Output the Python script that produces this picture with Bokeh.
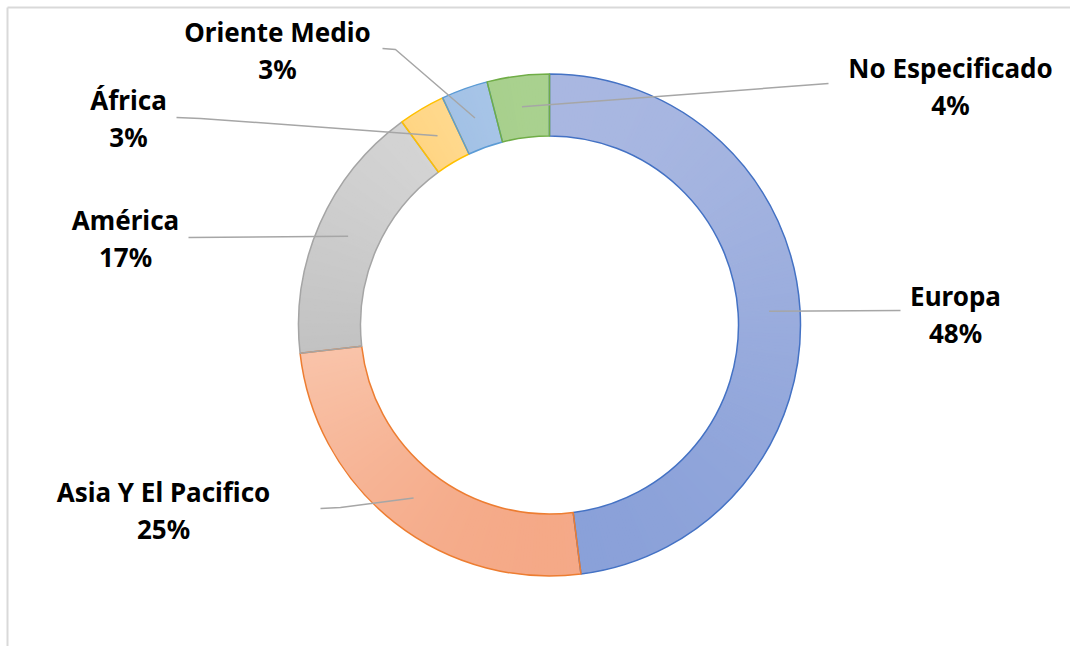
import numpy as np
from bokeh.plotting import figure
from bokeh.models import Range1d
from bokeh.core.properties import value
from bokeh.embed import file_html
from bokeh.resources import INLINE

# ---- data ----
categories = ["Europa", "Asia Y El Pacifico", "América", "África", "Oriente Medio", "No Especificado"]
shares = [48.0, 25.2, 16.8, 3.0, 3.0, 4.0]

# ---- styles ----
fill_light = ["#abb9e2", "#f9c4aa", "#d6d6d6", "#ffdd9b", "#b1cbea", "#b4d79c"]
fill_dark = ["#889fd8", "#f4a582", "#c2c2c2", "#ffd177", "#99bbe3", "#9dca80"]
line_colors = ["#4472C4", "#ED7D31", "#A5A5A5", "#FFC000", "#5B9BD5", "#70AD47"]

# ---- layout (page pixels) ----
W, H = 1070, 646
OFF = 0
center_px = (549, 324.5)
r_out, r_in = 251, 189
label_name_px = [(955, 295), (163, 491), (125, 219), (128, 99), (277, 31), (950, 67)]
label_gap = 37
leader_ends_px = [[(900, 310)], [(340, 507), (320, 508)], [(188, 237)],
                  [(200, 118), (176, 117)], [(395, 49), (382, 48)], [(828, 83)]]


def X(px):
    return px - OFF


def Y(py):
    return OFF + H - py


def hex2rgb(h):
    h = h.lstrip("#")
    return np.array([int(h[i:i + 2], 16) for i in (0, 2, 4)], dtype=float)


def lerp_color(a, b, t):
    c = hex2rgb(a) * (1 - t) + hex2rgb(b) * t
    return "#%02x%02x%02x" % tuple(int(round(v)) for v in c)


p = figure(width=W, height=H, output_backend="svg", toolbar_location=None,
           x_range=Range1d(0, W), y_range=Range1d(0, H), min_border=0)
p.axis.visible = False
p.grid.visible = False
p.outline_line_color = None
p.background_fill_color = "white"
p.border_fill_color = "white"

# frame (top and left edges visible)
p.line([X(7), W], [Y(7), Y(7)], line_color="#d9d9d9", line_width=2)
p.line([X(7), X(7)], [0, Y(7)], line_color="#d9d9d9", line_width=2)

cx, cy = X(center_px[0]), Y(center_px[1])
total = sum(shares)
cum = np.concatenate([[0], np.cumsum(shares)]) / total
starts = np.pi / 2 - 2 * np.pi * cum[1:]
ends = np.pi / 2 - 2 * np.pi * cum[:-1]

# gradient fill: each slice split into thin sub-wedges shaded by vertical position
step = np.radians(0.75)
gx, gy, gs, ge, gc = [], [], [], [], []
for i in range(len(shares)):
    s, e = starts[i], ends[i]
    samp = np.linspace(s, e, 200)
    ys_all = np.concatenate([cy + r_out * np.sin(samp), cy + r_in * np.sin(samp)])
    ymin, ymax = ys_all.min(), ys_all.max()
    n = max(1, int(np.ceil((e - s) / step)))
    edges = np.linspace(s, e, n + 1)
    for k in range(n):
        a0, a1 = edges[k], edges[k + 1]
        am = (a0 + a1) / 2
        yc = cy + (r_in + r_out) / 2 * np.sin(am)
        t = (ymax - yc) / (ymax - ymin) if ymax > ymin else 0.5
        t = min(max(t, 0), 1)
        gx.append(cx)
        gy.append(cy)
        gs.append(a0 - 0.002)
        ge.append(a1 + 0.002)
        gc.append(lerp_color(fill_light[i], fill_dark[i], t))

p.annular_wedge(x=gx, y=gy, inner_radius=r_in, outer_radius=r_out, start_angle=gs, end_angle=ge,
                fill_color=gc, line_color=None)

# slice outlines
p.annular_wedge(x=[cx] * len(shares), y=[cy] * len(shares), inner_radius=r_in, outer_radius=r_out,
                start_angle=list(starts), end_angle=list(ends), fill_color=None,
                line_color=line_colors, line_width=1.5)

mid = (starts + ends) / 2
r_mid = (r_in + r_out) / 2
for i in range(len(shares)):
    xs = [cx + r_mid * np.cos(mid[i])] + [X(a) for a, b in leader_ends_px[i]]
    ys = [cy + r_mid * np.sin(mid[i])] + [Y(b) for a, b in leader_ends_px[i]]
    p.line(xs, ys, line_color="#a6a6a6", line_width=1.5)

pct_labels = [f"{round(s)}%" for s in shares]
font = value("Noto Sans")
p.text(x=[X(a) for a, b in label_name_px], y=[Y(b) for a, b in label_name_px], text=categories,
       text_font=font, text_font_style="bold", text_font_size="26px", text_color="black",
       text_align="center", text_baseline="middle")
p.text(x=[X(a) for a, b in label_name_px], y=[Y(b + label_gap) for a, b in label_name_px], text=pct_labels,
       text_font=font, text_font_style="bold", text_font_size="26px", text_color="black",
       text_align="center", text_baseline="middle")

open("out.html", "w").write(file_html(p, INLINE))
